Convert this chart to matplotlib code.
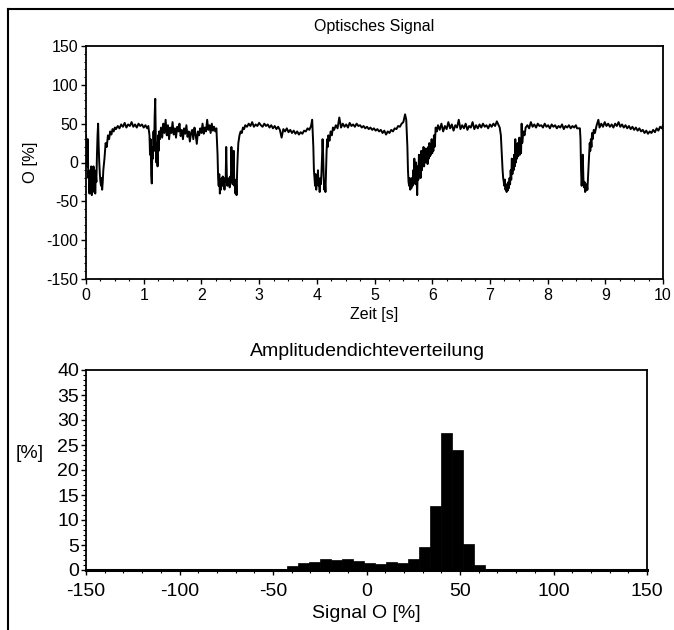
import numpy as np
import matplotlib
matplotlib.use('Agg')
import matplotlib.pyplot as plt
from matplotlib.lines import Line2D
from matplotlib.ticker import MultipleLocator

plt.rcParams['font.family'] = ['Liberation Sans', 'DejaVu Sans']
plt.rcParams['axes.unicode_minus'] = False

# optisches Signal: (Zeit [s], O [%])
abschnitt_a = [(0.00, 35), (0.01, 20), (0.02, -5), (0.03, 30), (0.04, -20), (0.05, -10), (0.06, -40),
               (0.07, -15), (0.08, -35), (0.09, -5), (0.10, -42), (0.11, -20), (0.12, -38), (0.13, -5),
               (0.14, -30), (0.15, -10), (0.16, -40), (0.17, -15), (0.18, -25), (0.19, 10), (0.20, 35),
               (0.21, 50), (0.22, 20), (0.23, 0), (0.24, -15), (0.25, -25), (0.26, -30), (0.27, -20),
               (0.28, -35), (0.29, -25), (0.30, -10), (0.32, 5), (0.34, 25), (0.36, 20), (0.38, 35),
               (0.40, 30), (0.42, 40), (0.44, 36), (0.46, 43), (0.48, 40), (0.50, 45), (0.52, 43)]
abschnitt_b = [(0.55, 47), (0.58, 44), (0.61, 49), (0.64, 46), (0.67, 51), (0.70, 45), (0.73, 49),
               (0.76, 47), (0.79, 52), (0.82, 46), (0.85, 49), (0.88, 45), (0.91, 50), (0.94, 47),
               (0.97, 49), (1.00, 45), (1.03, 48), (1.06, 44), (1.08, 47)]
abschnitt_c = [(1.10, 35), (1.11, 10), (1.12, 30), (1.13, -15), (1.14, -27), (1.15, 20), (1.16, 5),
               (1.17, 40), (1.18, 15), (1.19, 60), (1.20, 82), (1.21, 30), (1.22, 0), (1.23, 25),
               (1.24, -5), (1.25, 35), (1.26, 15), (1.27, 40), (1.28, 30)]
abschnitt_d = [(1.30, 45), (1.32, 32), (1.34, 50), (1.36, 38), (1.38, 55), (1.40, 35), (1.42, 48),
               (1.44, 30), (1.46, 45), (1.48, 38), (1.50, 52), (1.52, 36), (1.54, 44), (1.56, 32),
               (1.58, 46), (1.60, 40), (1.62, 50), (1.64, 34), (1.66, 42), (1.68, 30), (1.70, 44),
               (1.72, 37), (1.74, 48), (1.76, 33), (1.78, 40), (1.80, 27), (1.82, 38), (1.84, 42),
               (1.86, 30), (1.88, 45), (1.90, 36), (1.92, 24), (1.94, 40), (1.96, 35), (1.98, 44),
               (2.00, 38), (2.02, 50), (2.04, 37), (2.06, 45), (2.08, 40), (2.10, 55), (2.12, 42),
               (2.14, 48), (2.16, 38), (2.18, 50), (2.20, 41), (2.22, 46), (2.24, 40), (2.26, 44)]
abschnitt_e = [(2.28, 10), (2.29, -20), (2.30, -30), (2.31, -15), (2.32, -40), (2.33, -25), (2.34, -35),
               (2.35, -20), (2.36, -30), (2.37, -18), (2.38, -28), (2.39, -22), (2.40, -35), (2.41, -20),
               (2.42, -25), (2.43, 20), (2.44, -15), (2.45, -30), (2.46, -22), (2.47, -26), (2.48, -20),
               (2.49, -32), (2.50, -18), (2.51, -25), (2.52, 20), (2.53, -10), (2.54, -28), (2.55, -20),
               (2.56, 15), (2.57, -30), (2.58, -22), (2.59, -40), (2.60, -25), (2.61, -42), (2.62, -10),
               (2.63, 10), (2.64, 25), (2.66, 35), (2.68, 40), (2.70, 38), (2.72, 45), (2.74, 43),
               (2.76, 48)]
abschnitt_f = [(2.79, 46), (2.82, 50), (2.85, 47), (2.88, 52), (2.91, 46), (2.94, 49), (2.97, 47),
               (3.00, 51), (3.03, 48), (3.06, 46), (3.09, 50), (3.12, 47), (3.15, 49), (3.18, 45),
               (3.21, 48), (3.24, 44), (3.27, 47), (3.30, 43), (3.33, 46), (3.36, 42), (3.39, 32),
               (3.42, 43), (3.45, 40), (3.48, 44), (3.51, 39), (3.54, 42), (3.57, 38), (3.60, 41),
               (3.63, 37), (3.66, 40), (3.69, 36), (3.72, 39), (3.75, 37), (3.78, 41), (3.81, 40),
               (3.84, 44), (3.87, 42), (3.90, 47), (3.92, 55)]
abschnitt_g = [(3.94, 20), (3.95, -10), (3.96, -20), (3.97, -30), (3.98, -15), (3.99, -35), (4.00, -20),
               (4.01, -25), (4.02, -10), (4.03, -30), (4.04, -22), (4.05, -38), (4.06, -20), (4.07, -28),
               (4.08, -15), (4.09, 5), (4.10, 30), (4.11, 10), (4.12, -20), (4.13, -35), (4.14, -25),
               (4.15, -38), (4.16, -10), (4.17, 15), (4.18, 30), (4.19, 20), (4.20, 35), (4.22, 28),
               (4.24, 40), (4.26, 35), (4.28, 45)]
abschnitt_h = [(4.30, 42), (4.33, 48), (4.36, 44), (4.39, 58), (4.42, 45), (4.45, 50), (4.48, 46),
               (4.51, 49), (4.54, 45), (4.57, 51), (4.60, 47), (4.63, 49), (4.66, 46), (4.69, 50),
               (4.72, 47), (4.75, 48), (4.78, 45), (4.81, 47), (4.84, 44), (4.87, 46), (4.90, 43),
               (4.93, 45), (4.96, 42), (4.99, 44), (5.02, 41), (5.05, 43), (5.08, 40), (5.11, 42),
               (5.14, 38), (5.17, 41), (5.20, 36), (5.23, 40), (5.26, 38), (5.29, 42), (5.32, 40),
               (5.35, 44), (5.38, 43), (5.41, 47), (5.44, 46), (5.47, 50), (5.50, 52), (5.53, 62),
               (5.55, 55)]
abschnitt_i = [(5.57, 20), (5.58, -10), (5.59, -25), (5.60, -30), (5.61, -20), (5.62, -35), (5.63, -28),
               (5.64, -33), (5.65, -20), (5.66, -30), (5.67, -10), (5.68, -25), (5.69, 5), (5.70, -15),
               (5.71, -28), (5.72, 0), (5.73, -20), (5.74, -42), (5.75, -5), (5.76, -22), (5.77, 10),
               (5.78, -15), (5.79, 5), (5.80, -20), (5.81, 15), (5.82, -10), (5.83, 8), (5.84, -5),
               (5.85, 20), (5.86, -5), (5.87, 12), (5.88, 0), (5.89, 18), (5.90, 3), (5.91, 15),
               (5.92, -2), (5.93, 20), (5.94, 5), (5.95, 25), (5.96, 8), (5.97, 18), (5.98, 10),
               (5.99, 30), (6.00, 12), (6.01, 25), (6.02, 15), (6.03, 35), (6.04, 20), (6.05, 30),
               (6.06, 45), (6.08, 40)]
abschnitt_j = [(6.10, 48), (6.13, 42), (6.16, 50), (6.19, 40), (6.22, 47), (6.25, 43), (6.28, 52),
               (6.31, 44), (6.34, 49), (6.37, 41), (6.40, 48), (6.43, 45), (6.46, 55), (6.49, 43),
               (6.52, 48), (6.55, 44), (6.58, 50), (6.61, 42), (6.64, 47), (6.67, 45), (6.70, 52),
               (6.73, 43), (6.76, 48), (6.79, 44), (6.82, 49), (6.85, 45), (6.88, 50), (6.91, 46),
               (6.94, 48), (6.97, 44), (7.00, 49), (7.03, 46), (7.06, 50), (7.09, 47), (7.12, 53),
               (7.15, 48), (7.17, 45)]
abschnitt_k = [(7.19, 35), (7.20, 20), (7.21, 5), (7.22, -10), (7.23, -20), (7.24, -25), (7.25, -30),
               (7.26, -22), (7.27, -35), (7.28, -28), (7.29, -38), (7.30, -30), (7.31, -36), (7.32, -25),
               (7.33, -33), (7.34, -20), (7.35, -28), (7.36, -10), (7.37, -22), (7.38, 5), (7.39, -15),
               (7.40, 0), (7.41, -10), (7.42, 10), (7.43, -5), (7.44, 30), (7.45, 0), (7.46, 15),
               (7.47, 5), (7.48, 25), (7.49, 8), (7.50, 20), (7.51, 32), (7.52, 10), (7.53, 20),
               (7.54, 12), (7.55, 50), (7.56, 25), (7.58, 40), (7.60, 35), (7.62, 45)]
abschnitt_l = [(7.65, 48), (7.68, 44), (7.71, 52), (7.74, 46), (7.77, 49), (7.80, 45), (7.83, 50),
               (7.86, 47), (7.89, 48), (7.92, 45), (7.95, 50), (7.98, 46), (8.01, 48), (8.04, 44),
               (8.07, 49), (8.10, 46), (8.13, 48), (8.16, 44), (8.19, 47), (8.22, 45), (8.25, 49),
               (8.28, 43), (8.31, 47), (8.34, 45), (8.37, 48), (8.40, 44), (8.43, 47), (8.46, 45),
               (8.49, 48), (8.51, 44)]
abschnitt_m = [(8.56, 44), (8.57, 30), (8.58, -10), (8.59, -30), (8.60, -15), (8.61, 10), (8.62, -20),
               (8.63, -32), (8.64, -25), (8.65, -38), (8.66, -30), (8.67, -36), (8.68, -28), (8.69, -35),
               (8.70, -20), (8.71, -5), (8.72, 10), (8.73, 25), (8.74, 15), (8.75, 30), (8.76, 20),
               (8.77, 38), (8.78, 30), (8.80, 42), (8.82, 38), (8.85, 48), (8.88, 55), (8.90, 45)]
abschnitt_n = [(8.93, 50), (8.96, 46), (8.99, 52), (9.02, 47), (9.05, 50), (9.08, 46), (9.11, 49),
               (9.14, 45), (9.17, 50), (9.20, 47), (9.23, 52), (9.26, 46), (9.29, 49), (9.32, 45),
               (9.35, 48), (9.38, 44), (9.41, 47), (9.44, 43), (9.47, 46), (9.50, 42), (9.53, 45),
               (9.56, 41), (9.59, 44), (9.62, 40), (9.65, 42), (9.68, 38), (9.71, 41), (9.74, 37),
               (9.77, 40), (9.80, 38), (9.83, 42), (9.86, 39), (9.89, 44), (9.92, 41), (9.95, 46),
               (9.98, 44), (10.00, 48)]

# Amplitudendichteverteilung: Klassengrenzen [%] und Haeufigkeit [%]
klassen_links = [-48.6, -42.7, -36.8, -30.9, -25.0, -19.1, -13.2, -7.3, -1.4, 4.5,
                 10.4, 16.3, 22.2, 28.1, 34.0, 39.9, 45.8, 51.7, 57.6]
klassen_breite = 5.9
haeufigkeit = [0.3, 0.9, 1.5, 1.7, 2.3, 2.1, 2.3, 1.9, 1.5, 1.3,
               1.6, 1.4, 2.3, 4.7, 12.9, 27.5, 24.1, 5.3, 1.0]

W, H = 674, 630
fig = plt.figure(figsize=(W / 100, H / 100), dpi=100)

def px(x, y):
    return x / W, 1 - y / H

# Rahmen links und oben
fig.add_artist(Line2D([7.5 / W, 7.5 / W], [0, 1 - 9 / H], color='black', lw=1.5))
fig.add_artist(Line2D([7.5 / W, 1], [1 - 9 / H, 1 - 9 / H], color='black', lw=1.5))

# --- oben: Zeitsignal
ax1 = fig.add_axes([86 / W, 1 - 279 / H, 577 / W, 233 / H])
alle = (abschnitt_a + abschnitt_b + abschnitt_c + abschnitt_d + abschnitt_e + abschnitt_f + abschnitt_g
        + abschnitt_h + abschnitt_i + abschnitt_j + abschnitt_k + abschnitt_l + abschnitt_m + abschnitt_n)
zeit = [p[0] for p in alle]
signal_o = [p[1] for p in alle]
ax1.plot(zeit, signal_o, color='black', lw=1.4)
ax1.set_xlim(0, 10)
ax1.set_ylim(-150, 150)
ax1.xaxis.set_major_locator(MultipleLocator(1))
ax1.xaxis.set_minor_locator(MultipleLocator(0.25))
ax1.yaxis.set_major_locator(MultipleLocator(50))
ax1.yaxis.set_minor_locator(MultipleLocator(10))
ax1.tick_params(which='major', direction='out', length=3.5, width=1, labelsize=11.5, pad=2)
ax1.tick_params(axis='x', which='major', pad=3)
ax1.tick_params(which='minor', direction='out', length=1.5, width=0.8)
for s in ax1.spines.values():
    s.set_linewidth(1.3)

x, y = px(374, 27)
fig.text(x, y, 'Optisches Signal', ha='center', va='center', fontsize=11.5)
x, y = px(374, 315)
fig.text(x, y, 'Zeit [s]', ha='center', va='center', fontsize=11.5)
x, y = px(30, 162)
fig.text(x, y, 'O [%]', ha='center', va='center', fontsize=12, rotation=90)

# --- unten: Histogramm
ax2 = fig.add_axes([86 / W, 1 - 570 / H, 561 / W, 200 / H])
ax2.bar(klassen_links, haeufigkeit, width=klassen_breite, align='edge', color='black', edgecolor='black', lw=0.5)
ax2.set_xlim(-150, 150)
ax2.set_ylim(0, 40)
ax2.xaxis.set_major_locator(MultipleLocator(50))
ax2.xaxis.set_minor_locator(MultipleLocator(10))
ax2.yaxis.set_major_locator(MultipleLocator(5))
ax2.yaxis.set_minor_locator(MultipleLocator(1))
ax2.tick_params(which='major', direction='out', length=3.5, width=1, labelsize=14, pad=1.5)
ax2.tick_params(axis='x', which='major', pad=6)
ax2.tick_params(which='minor', direction='out', length=2, width=0.8)
for s in ax2.spines.values():
    s.set_linewidth(1.3)
ax2.spines['bottom'].set_linewidth(2.2)

x, y = px(368, 352)
fig.text(x, y, 'Amplitudendichteverteilung', ha='center', va='center', fontsize=14)
x, y = px(366, 614)
fig.text(x, y, 'Signal O [%]', ha='center', va='center', fontsize=14)
x, y = px(30, 453)
fig.text(x, y, '[%]', ha='center', va='center', fontsize=14)

fig.savefig('out.png', dpi=100)
